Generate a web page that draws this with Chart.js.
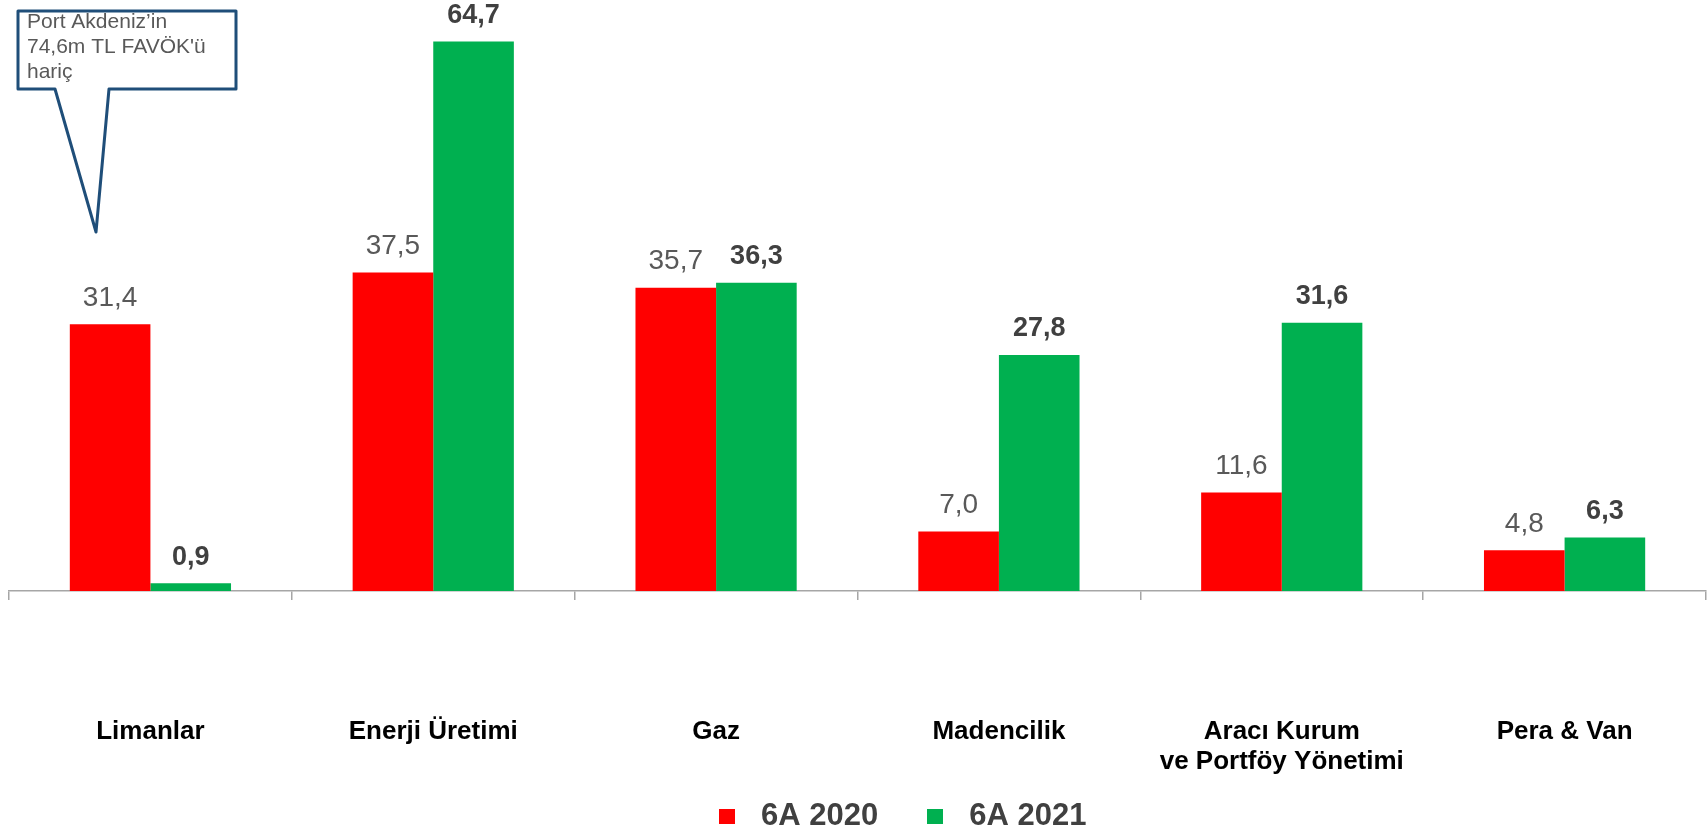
<!DOCTYPE html>
<html>
<head>
<meta charset="utf-8">
<script src="https://cdn.jsdelivr.net/npm/chart.js@4.4.1/dist/chart.umd.min.js"></script>
<style>
html,body{margin:0;padding:0;background:#fff;overflow:hidden}
#wrap{position:relative;width:1707px;height:834px}
</style>
</head>
<body>
<div id="wrap"><canvas id="c" width="1707" height="834"></canvas></div>
<script>
// ---- data ----
const categories = ['Limanlar', 'Enerji Üretimi', 'Gaz', 'Madencilik', ['Aracı Kurum', 've Portföy Yönetimi'], 'Pera & Van'];
const seriesNames = ['6A 2020', '6A 2021'];
const values2020 = [31.4, 37.5, 35.7, 7.0, 11.6, 4.8];
const values2021 = [0.9, 64.7, 36.3, 27.8, 31.6, 6.3];
const calloutLines = ['Port Akdeniz’in', "74,6m TL FAVÖK'ü", 'hariç'];

// ---- style ----
const FONT = '"Liberation Sans", Arial, sans-serif';
const RED = '#FF0000';
const GREEN = '#00B050';
const AXIS_GREY = '#A6A6A6';
const LEGEND_SHIFT_X = 40;
const LEGEND_SHIFT_Y = -34;

function fmt(v) { return v.toFixed(1).replace('.', ','); }

function makeSwatch(color) {
  const c = document.createElement('canvas');
  c.width = 16; c.height = 15;
  const g = c.getContext('2d');
  g.fillStyle = color;
  g.fillRect(0, 0, 16, 15);
  return c;
}

const valueLabels = {
  id: 'valueLabels',
  afterDatasetsDraw(chart) {
    const ctx = chart.ctx;
    chart.data.datasets.forEach((ds, i) => {
      const meta = chart.getDatasetMeta(i);
      meta.data.forEach((bar, j) => {
        ctx.save();
        ctx.font = (i === 1 ? 'bold 27px ' : '28px ') + FONT;
        ctx.fillStyle = i === 1 ? '#404040' : '#595959';
        ctx.textAlign = 'center';
        ctx.textBaseline = 'alphabetic';
        ctx.fillText(fmt(ds.data[j]), bar.x, bar.y - 18.5);
        ctx.restore();
      });
    });
  }
};

const callout = {
  id: 'callout',
  afterDraw(chart) {
    const ctx = chart.ctx;
    const L = 18, T = 11, R = 236, B = 89;
    ctx.save();
    ctx.beginPath();
    ctx.moveTo(L, T);
    ctx.lineTo(R, T);
    ctx.lineTo(R, B);
    ctx.lineTo(109, B);
    ctx.lineTo(96, 232);
    ctx.lineTo(55, B);
    ctx.lineTo(L, B);
    ctx.closePath();
    ctx.fillStyle = '#FFFFFF';
    ctx.fill();
    ctx.lineWidth = 3;
    ctx.lineJoin = 'round';
    ctx.strokeStyle = '#1F4E79';
    ctx.stroke();
    ctx.font = '21px ' + FONT;
    ctx.fillStyle = '#595959';
    ctx.textAlign = 'left';
    ctx.textBaseline = 'alphabetic';
    calloutLines.forEach((t, k) => ctx.fillText(t, 27, 28 + k * 25));
    ctx.restore();
  }
};

const legendShift = {
  id: 'legendShift',
  afterLayout(chart) {
    const lg = chart.legend;
    if (lg) {
      lg.left += LEGEND_SHIFT_X; lg.right += LEGEND_SHIFT_X;
      lg.top += LEGEND_SHIFT_Y; lg.bottom += LEGEND_SHIFT_Y;
    }
  }
};

new Chart(document.getElementById('c'), {
  type: 'bar',
  data: {
    labels: categories,
    datasets: [
      { label: seriesNames[0], data: values2020, backgroundColor: RED, borderWidth: 0, categoryPercentage: 0.57, barPercentage: 1.0 },
      { label: seriesNames[1], data: values2021, backgroundColor: GREEN, borderWidth: 0, categoryPercentage: 0.57, barPercentage: 1.0 }
    ]
  },
  options: {
    responsive: false,
    animation: false,
    events: [],
    layout: { padding: { left: 9, right: 1, top: 0, bottom: -41.5 } },
    scales: {
      x: {
        grid: { offset: true, drawOnChartArea: false, drawTicks: true, tickLength: 9, color: AXIS_GREY, lineWidth: 1.5 },
        border: { display: true, color: AXIS_GREY, width: 1.5 },
        ticks: { color: '#000000', font: { family: FONT, size: 26, weight: 'bold', lineHeight: 1.13 }, padding: 117.4, maxRotation: 0, autoSkip: false },
        afterFit(scale) { scale.height = 205; scale.paddingLeft = 0; scale.paddingRight = 0; }
      },
      y: { display: false, min: 0, max: 69.6 }
    },
    plugins: {
      tooltip: { enabled: false },
      legend: {
        position: 'bottom',
        labels: {
          usePointStyle: true,
          pointStyleWidth: 37,
          padding: 38.5,
          color: '#404040',
          font: { family: FONT, size: 31, weight: 'bold' },
          generateLabels(chart) {
            const items = Chart.defaults.plugins.legend.labels.generateLabels(chart);
            items.forEach(it => { it.pointStyle = makeSwatch(chart.data.datasets[it.datasetIndex].backgroundColor); });
            return items;
          }
        }
      }
    }
  },
  plugins: [valueLabels, callout, legendShift]
});
</script>
</body>
</html>
